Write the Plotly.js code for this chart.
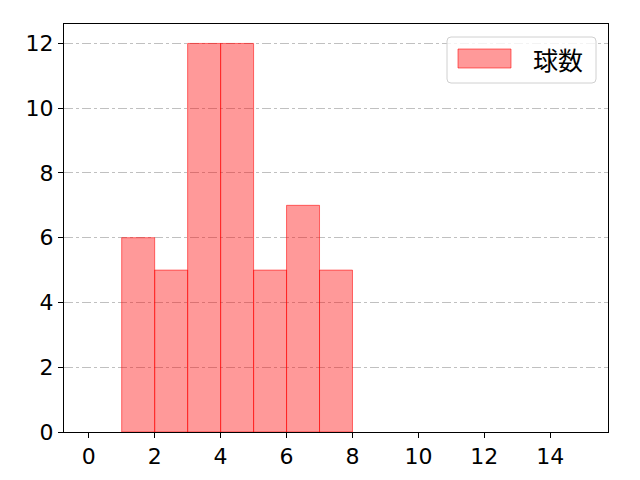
<!DOCTYPE html>
<html>
<head>
<meta charset="utf-8">
<script src="https://cdn.plot.ly/plotly-3.0.1.min.js"></script>
<style>html,body{margin:0;padding:0;background:#fff;}#chart{width:640px;height:480px;}</style>
</head>
<body>
<div id="chart"></div>
<script>
const binStarts = [1, 2, 3, 4, 5, 6, 7];
const counts = [6, 5, 12, 12, 5, 7, 5];
const seriesName = "球数";
const xTicks = [0, 2, 4, 6, 8, 10, 12, 14];
const yTicks = [0, 2, 4, 6, 8, 10, 12];

const cjkFont = "'Noto Sans CJK JP', 'Noto Sans', sans-serif";
const tickFont = "'DejaVu Sans', 'Noto Sans CJK JP', sans-serif";
const fillColor = "rgba(255,0,0,0.4)";
const edgeColor = "rgba(255,0,0,0.55)";

// legend box geometry (paper coordinates)
const W = 544, H = 408;
const bx0 = (447 - 64) / W, bx1 = (596 - 64) / W;
const by1 = (432 - 37) / H, by0 = (432 - 83) / H;
const rx = 4 / W, ry = 4 / H;
const boxPath = `M${bx0+rx},${by1} L${bx1-rx},${by1} Q${bx1},${by1} ${bx1},${by1-ry} ` +
  `L${bx1},${by0+ry} Q${bx1},${by0} ${bx1-rx},${by0} L${bx0+rx},${by0} ` +
  `Q${bx0},${by0} ${bx0},${by0+ry} L${bx0},${by1-ry} Q${bx0},${by1} ${bx0+rx},${by1} Z`;

Plotly.newPlot("chart", [{
  type: "bar",
  x: binStarts,
  y: counts,
  width: 1,
  offset: 0,
  name: seriesName,
  marker: {color: fillColor, line: {color: edgeColor, width: 1}},
  showlegend: false
}], {
  width: 640, height: 480,
  margin: {l: 64, r: 32, t: 24, b: 48},
  paper_bgcolor: "#fff", plot_bgcolor: "#fff",
  font: {family: cjkFont, size: 22, color: "#000"},
  bargap: 0,
  xaxis: {
    range: [-0.75, 15.75], tickvals: xTicks, ticks: "outside", ticklen: 5, tickwidth: 1,
    tickcolor: "#000", showline: true, linecolor: "#000", linewidth: 1, mirror: true,
    showgrid: false, zeroline: false, tickfont: {family: tickFont, size: 22}
  },
  yaxis: {
    range: [0, 12.6], tickvals: yTicks, ticks: "outside", ticklen: 5, tickwidth: 1,
    tickcolor: "#000", showline: true, linecolor: "#000", linewidth: 1, mirror: true,
    showgrid: true, gridcolor: "#b0b0b0", gridwidth: 0.8, griddash: "dashdot",
    zeroline: false, tickfont: {family: tickFont, size: 22}
  },
  shapes: [
    {type: "path", xref: "paper", yref: "paper", path: boxPath,
     fillcolor: "rgba(255,255,255,0.8)", line: {color: "#d0d0d0", width: 1}, layer: "above"},
    {type: "rect", xref: "paper", yref: "paper",
     x0: (458 - 64) / W, x1: (511 - 64) / W, y0: (432 - 68) / H, y1: (432 - 49) / H,
     fillcolor: fillColor, line: {color: edgeColor, width: 1}, layer: "above"}
  ],
  annotations: [
    {xref: "paper", yref: "paper", x: (531 - 64) / W, y: (432 - 59) / H,
     xanchor: "left", yanchor: "middle", showarrow: false, text: seriesName,
     font: {family: cjkFont, size: 25, color: "#000"}}
  ]
}, {displayModeBar: false, staticPlot: true});
</script>
</body>
</html>
